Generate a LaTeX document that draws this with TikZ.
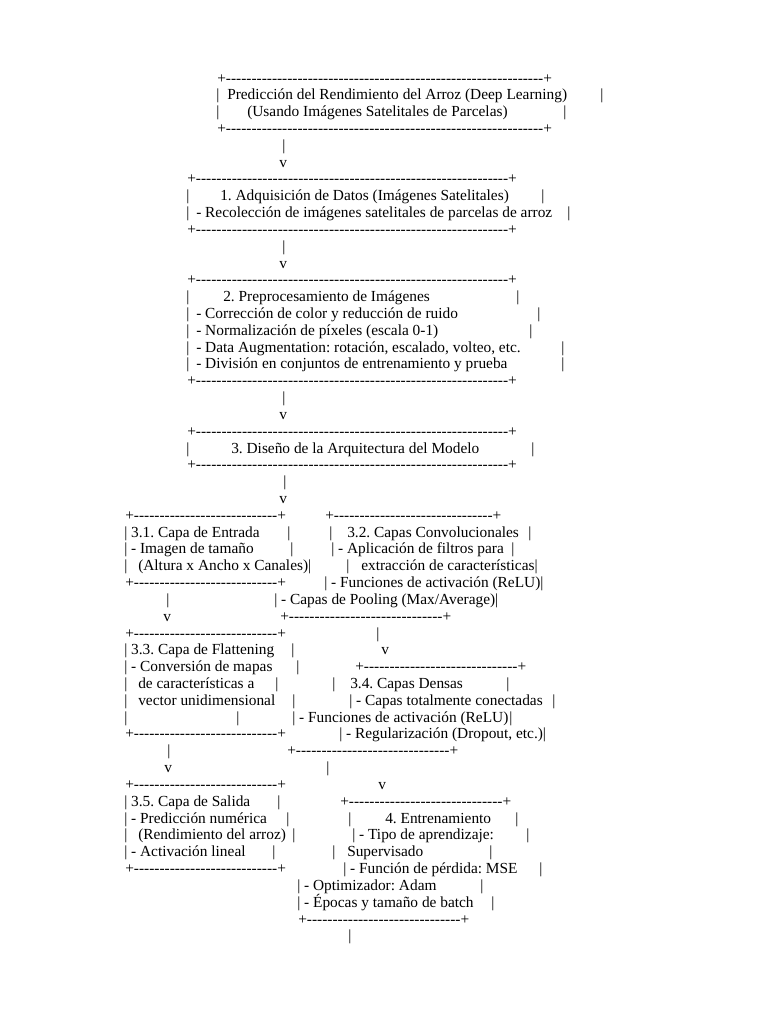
\documentclass[tikz,border=0pt]{standalone}
\usepackage{fontspec}
\setmainfont{Liberation Serif}
\usepackage{tikz}
\frenchspacing

\newcommand{\dashrow}[1]{+\foreach\i in {1,...,#1}{\mbox{-}}+}

\begin{document}
\begin{tikzpicture}[x=0.8pt,y=-13.456pt,
  asc/.style={anchor=base west,inner sep=0pt,font=\fontsize{12.3}{14}\selectfont}]
\useasboundingbox (0,-4.935) rectangle (768,55.946);

\node[asc] (r0a) at (217,0) {\dashrow{62}};
\node[asc] (r1a) at (216,1) {|};
\node[asc] (r1b) at (227,1) {Predicción del Rendimiento del Arroz (Deep Learning)};
\node[asc] (r1c) at (600,1) {|};
\node[asc] (r2a) at (216,2) {|};
\node[asc] (r2b) at (247,2) {(Usando Imágenes Satelitales de Parcelas)};
\node[asc] (r2c) at (563,2) {|};
\node[asc] (r3a) at (217,3) {\dashrow{62}};
\node[asc] (r4a) at (282,4) {|};
\node[asc] (r5a) at (279,5) {v};

\node[asc] (r6a) at (187,6) {\dashrow{61}};
\node[asc] (r7a) at (186,7) {|};
\node[asc] (r7b) at (220,7) {1. Adquisición de Datos (Imágenes Satelitales)};
\node[asc] (r7c) at (541,7) {|};
\node[asc] (r8a) at (186,8) {|};
\node[asc] (r8b) at (196,8) {- Recolección de imágenes satelitales de parcelas de arroz};
\node[asc] (r8c) at (567,8) {|};
\node[asc] (r9a) at (187,9) {\dashrow{61}};
\node[asc] (r10a) at (282,10) {|};
\node[asc] (r11a) at (279,11) {v};

\node[asc] (r12a) at (187,12) {\dashrow{61}};
\node[asc] (r13a) at (186,13) {|};
\node[asc] (r13b) at (223,13) {2. Preprocesamiento de Imágenes};
\node[asc] (r13c) at (516,13) {|};
\node[asc] (r14a) at (186,14) {|};
\node[asc] (r14b) at (196,14) {- Corrección de color y reducción de ruido};
\node[asc] (r14c) at (537,14) {|};
\node[asc] (r15a) at (186,15) {|};
\node[asc] (r15b) at (196,15) {- Normalización de píxeles (escala 0-1)};
\node[asc] (r15c) at (529,15) {|};
\node[asc] (r16a) at (186,16) {|};
\node[asc] (r16b) at (196,16) {- Data Augmentation: rotación, escalado, volteo, etc.};
\node[asc] (r16c) at (561,16) {|};
\node[asc] (r17a) at (186,17) {|};
\node[asc] (r17b) at (196,17) {- División en conjuntos de entrenamiento y prueba};
\node[asc] (r17c) at (561,17) {|};
\node[asc] (r18a) at (187,18) {\dashrow{61}};
\node[asc] (r19a) at (282,19) {|};
\node[asc] (r20a) at (279,20) {v};

\node[asc] (r21a) at (187,21) {\dashrow{61}};
\node[asc] (r22a) at (186,22) {|};
\node[asc] (r22b) at (231,22) {3. Diseño de la Arquitectura del Modelo};
\node[asc] (r22c) at (531,22) {|};
\node[asc] (r23a) at (187,23) {\dashrow{61}};
\node[asc] (r24a) at (283,24) {|};
\node[asc] (r25a) at (279,25) {v};

% 3.1 and 3.2
\node[asc] (r26a) at (125,26) {\dashrow{28}};
\node[asc] (r26b) at (325,26) {\dashrow{31}};
\node[asc] (r27a) at (124,27) {| 3.1. Capa de Entrada};
\node[asc] (r27b) at (287,27) {|};
\node[asc] (r27c) at (329,27) {|};
\node[asc] (r27d) at (347,27) {3.2. Capas Convolucionales};
\node[asc] (r27e) at (528,27) {|};
\node[asc] (r28a) at (124,28) {| - Imagen de tamaño};
\node[asc] (r28b) at (290,28) {|};
\node[asc] (r28c) at (331,28) {| - Aplicación de filtros para};
\node[asc] (r28d) at (511,28) {|};
\node[asc] (r29a) at (124,29) {|};
\node[asc] (r29b) at (138,29) {(Altura x Ancho x Canales)|};
\node[asc] (r29c) at (346,29) {|};
\node[asc] (r29d) at (361,29) {extracción de características|};
\node[asc] (r30a) at (125,30) {\dashrow{28}};
\node[asc] (r30b) at (324,30) {| - Funciones de activación (ReLU)|};
\node[asc] (r31a) at (166,31) {|};
\node[asc] (r31b) at (274,31) {| - Capas de Pooling (Max/Average)|};
\node[asc] (r32a) at (163,32) {v};
\node[asc] (r32b) at (280,32) {\dashrow{30}};

% 3.3 and 3.4
\node[asc] (r33a) at (125,33) {\dashrow{28}};
\node[asc] (r33b) at (376,33) {|};
\node[asc] (r34a) at (124,34) {| 3.3. Capa de Flattening};
\node[asc] (r34b) at (291,34) {|};
\node[asc] (r34c) at (381,34) {v};
\node[asc] (r35a) at (124,35) {| - Conversión de mapas};
\node[asc] (r35b) at (296,35) {|};
\node[asc] (r35c) at (355,35) {\dashrow{30}};
\node[asc] (r36a) at (124,36) {|};
\node[asc] (r36b) at (138,36) {de características a};
\node[asc] (r36c) at (275,36) {|};
\node[asc] (r36d) at (332,36) {|};
\node[asc] (r36e) at (350,36) {3.4. Capas Densas};
\node[asc] (r36f) at (506,36) {|};
\node[asc] (r37a) at (124,37) {|};
\node[asc] (r37b) at (138,37) {vector unidimensional};
\node[asc] (r37c) at (292,37) {|};
\node[asc] (r37d) at (349,37) {| - Capas totalmente conectadas};
\node[asc] (r37e) at (552,37) {|};
\node[asc] (r38a) at (124,38) {|};
\node[asc] (r38b) at (236,38) {|};
\node[asc] (r38c) at (292,38) {| - Funciones de activación (ReLU)};
\node[asc] (r38d) at (509,38) {|};
\node[asc] (r39a) at (125,39) {\dashrow{28}};
\node[asc] (r39b) at (339,39) {| - Regularización (Dropout, etc.)|};
\node[asc] (r40a) at (167,40) {|};
\node[asc] (r40b) at (287,40) {\dashrow{30}};
\node[asc] (r41a) at (164,41) {v};
\node[asc] (r41b) at (326,41) {|};

% 3.5 and 4
\node[asc] (r42a) at (125,42) {\dashrow{28}};
\node[asc] (r42b) at (378,42) {v};
\node[asc] (r43a) at (124,43) {| 3.5. Capa de Salida};
\node[asc] (r43b) at (277,43) {|};
\node[asc] (r43c) at (340,43) {\dashrow{30}};
\node[asc] (r44a) at (124,44) {| - Predicción numérica};
\node[asc] (r44b) at (286,44) {|};
\node[asc] (r44c) at (348,44) {|};
\node[asc] (r44d) at (385,44) {4. Entrenamiento};
\node[asc] (r44e) at (515,44) {|};
\node[asc] (r45a) at (124,45) {|};
\node[asc] (r45b) at (138,45) {(Rendimiento del arroz)};
\node[asc] (r45c) at (292,45) {|};
\node[asc] (r45d) at (352,45) {| - Tipo de aprendizaje:};
\node[asc] (r45e) at (526,45) {|};
\node[asc] (r46a) at (124,46) {| - Activación lineal};
\node[asc] (r46b) at (272,46) {|};
\node[asc] (r46c) at (332,46) {|};
\node[asc] (r46d) at (347,46) {Supervisado};
\node[asc] (r46e) at (489,46) {|};
\node[asc] (r47a) at (125,47) {\dashrow{28}};
\node[asc] (r47b) at (343,47) {| - Función de pérdida: MSE};
\node[asc] (r47c) at (539,47) {|};
\node[asc] (r48a) at (297,48) {| - Optimizador: Adam};
\node[asc] (r48b) at (480,48) {|};
\node[asc] (r49a) at (297,49) {| - Épocas y tamaño de batch};
\node[asc] (r49b) at (491,49) {|};
\node[asc] (r50a) at (298,50) {\dashrow{30}};
\node[asc] (r51a) at (348,51) {|};
\end{tikzpicture}
\end{document}
